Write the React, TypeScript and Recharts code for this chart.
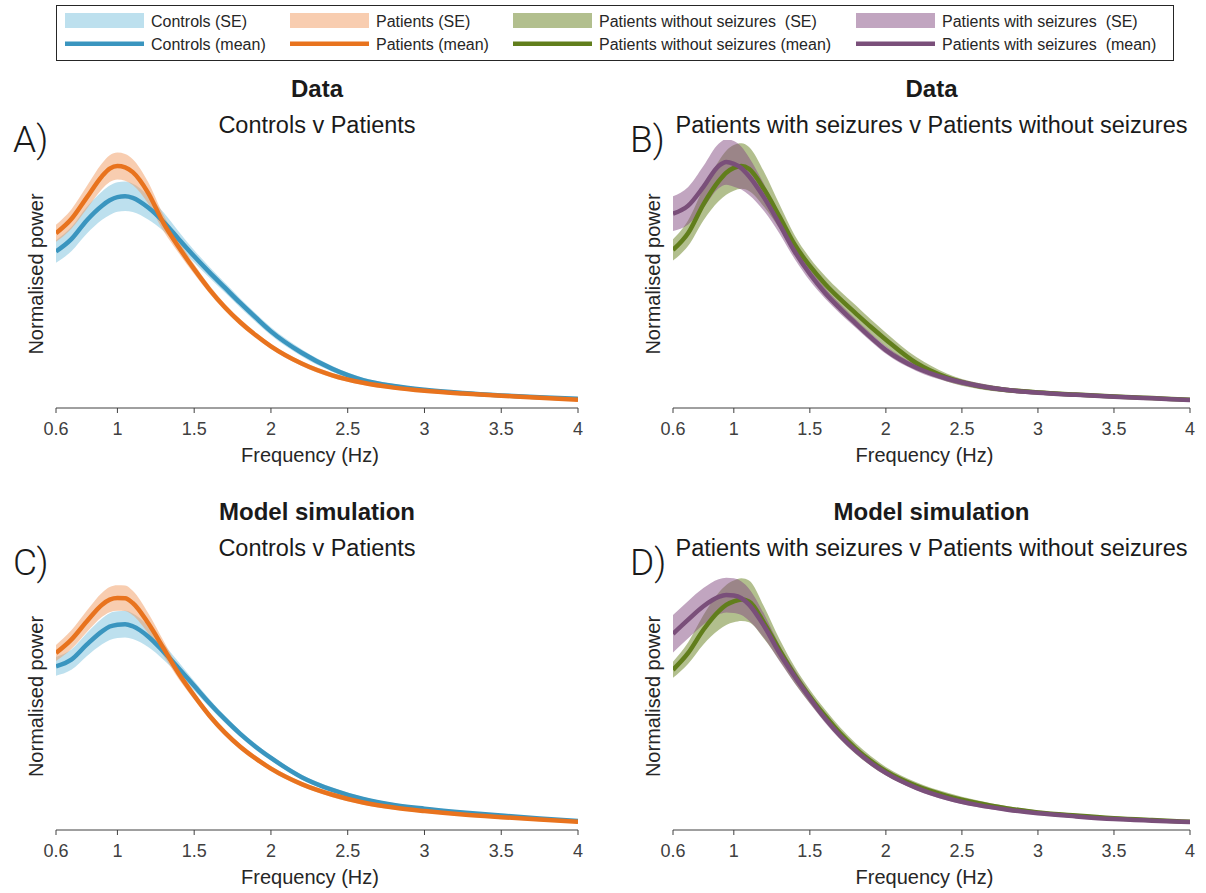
import { ComposedChart, Area, Line, XAxis, YAxis } from "recharts";

const FONT = '"Liberation Sans", Arial, Helvetica, sans-serif';

// shared frequency grid (Hz)
const freqs = [0.6, 0.7, 0.8, 0.9, 0.95, 1.0, 1.05, 1.1, 1.2, 1.3, 1.4, 1.5, 1.6, 1.7, 1.8, 1.9, 2.0, 2.2, 2.4, 2.6, 2.8, 3.0, 3.25, 3.5, 3.75, 4.0];
const tickValues = [0.6, 1, 1.5, 2, 2.5, 3, 3.5, 4];
const tickLabels = ["0.6", "1", "1.5", "2", "2.5", "3", "3.5", "4"];

// A) Data: controls v patients
const controlsMean = [58.4, 63.0, 70.0, 75.5, 77.5, 78.7, 79.0, 78.4, 74.8, 69.5, 63.0, 56.6, 50.6, 44.9, 39.2, 33.8, 28.6, 20.6, 14.6, 10.4, 8.2, 6.8, 5.6, 4.7, 4.0, 3.4];
const controlsSE = [4.2, 4.5, 5.0, 5.3, 5.5, 5.5, 5.5, 5.3, 4.5, 3.5, 2.8, 2.3, 2.0, 1.8, 1.7, 1.6, 1.5, 1.3, 1.1, 0.9, 0.8, 0.7, 0.7, 0.6, 0.6, 0.5];
const patientsMean = [65.2, 70.5, 78.5, 86.5, 89.3, 90.3, 89.8, 88.0, 80.3, 69.0, 60.0, 51.8, 44.2, 37.6, 32.0, 27.2, 23.0, 16.6, 12.2, 9.4, 7.6, 6.4, 5.4, 4.6, 3.8, 3.1];
const patientsSE = [3.2, 3.6, 4.2, 4.8, 5.0, 5.0, 5.0, 4.8, 4.0, 3.0, 2.3, 1.8, 1.5, 1.3, 1.2, 1.1, 1.0, 0.9, 0.9, 0.8, 0.7, 0.6, 0.6, 0.6, 0.6, 0.6];

// B) Data: with v without seizures
const withoutMean = [59.0, 65.3, 76.0, 84.6, 87.8, 89.6, 90.3, 89.2, 81.5, 71.5, 61.0, 53.0, 46.3, 40.6, 35.4, 30.3, 25.5, 16.8, 11.4, 8.3, 6.7, 5.8, 5.0, 4.3, 3.7, 3.1];
const withoutSE = [4.0, 4.8, 6.0, 7.5, 8.2, 8.5, 8.5, 8.2, 6.5, 4.5, 3.5, 3.0, 3.0, 3.0, 3.0, 2.8, 2.6, 2.2, 1.5, 1.1, 0.9, 0.8, 0.7, 0.7, 0.6, 0.6];
const withMean = [72.5, 75.5, 82.5, 90.3, 91.8, 91.1, 89.5, 86.5, 78.4, 68.6, 58.4, 50.0, 42.9, 37.0, 31.6, 26.4, 21.6, 15.0, 11.0, 8.4, 6.7, 5.7, 4.9, 4.2, 3.6, 3.0];
const withSE = [6.5, 7.0, 7.8, 8.3, 8.5, 8.5, 8.0, 7.0, 5.0, 3.5, 2.8, 2.5, 2.0, 1.8, 1.6, 1.5, 1.4, 1.2, 1.1, 1.0, 0.9, 0.8, 0.7, 0.7, 0.6, 0.6];

// C) Model simulation: controls v patients
const controlsMeanSim = [61.3, 63.8, 69.4, 74.4, 76.2, 76.9, 77.1, 76.3, 72.5, 66.8, 60.5, 54.0, 47.5, 41.5, 36.0, 31.2, 27.0, 19.8, 15.0, 11.6, 9.4, 8.0, 6.6, 5.4, 4.3, 3.4];
const controlsSESim = [3.5, 3.8, 4.3, 4.8, 5.0, 5.0, 5.0, 4.8, 4.0, 3.0, 2.3, 1.8, 1.5, 1.3, 1.2, 1.1, 1.0, 0.9, 0.9, 0.8, 0.7, 0.6, 0.6, 0.6, 0.5, 0.5];
const patientsMeanSim = [66.3, 71.3, 78.1, 84.4, 86.3, 86.9, 86.8, 85.0, 77.5, 68.1, 58.5, 50.3, 42.8, 36.5, 31.2, 26.8, 23.0, 17.2, 13.2, 10.3, 8.4, 7.1, 5.8, 4.8, 3.9, 3.1];
const patientsSESim = [3.0, 3.5, 4.0, 4.5, 4.7, 4.8, 4.8, 4.6, 3.8, 2.8, 2.0, 1.5, 1.3, 1.2, 1.1, 1.0, 1.0, 0.9, 0.9, 0.8, 0.7, 0.6, 0.6, 0.6, 0.6, 0.6];

// D) Model simulation: with v without seizures
const withoutMeanSim = [60.0, 66.3, 75.0, 81.9, 84.3, 85.6, 86.3, 85.6, 77.5, 67.5, 58.1, 50.0, 42.8, 36.2, 30.6, 25.9, 22.0, 16.5, 12.8, 10.1, 8.1, 6.6, 5.4, 4.4, 3.7, 3.1];
const withoutSESim = [3.0, 4.0, 5.5, 7.0, 7.5, 7.8, 8.0, 7.8, 6.0, 4.0, 3.0, 2.5, 2.3, 2.2, 2.0, 1.8, 1.6, 1.4, 1.2, 1.0, 0.8, 0.7, 0.7, 0.6, 0.6, 0.5];
const withMeanSim = [73.5, 78.8, 83.8, 87.3, 88.0, 87.8, 86.8, 84.4, 76.3, 66.3, 57.5, 49.4, 41.8, 35.3, 29.8, 25.2, 21.4, 15.8, 12.0, 9.4, 7.6, 6.3, 5.1, 4.1, 3.5, 3.0];
const withSESim = [7.0, 7.0, 6.8, 6.6, 6.5, 6.5, 6.3, 6.0, 4.5, 3.0, 2.5, 2.0, 1.6, 1.4, 1.2, 1.1, 1.0, 0.9, 0.9, 0.8, 0.7, 0.6, 0.6, 0.6, 0.5, 0.5];

const COLORS = {
  controls: { line: "#3a95bf", fill: "#7bc1dd" },
  patients: { line: "#e8731e", fill: "#f19b61" },
  without: { line: "#617e1c", fill: "#657f1d" },
  with: { line: "#7a4f7a", fill: "#834b81" },
};

const legendItems = [
  { label: "Controls", se: "Controls (SE)", mean: "Controls (mean)", c: COLORS.controls, x: 65 },
  { label: "Patients", se: "Patients (SE)", mean: "Patients (mean)", c: COLORS.patients, x: 290 },
  { label: "Without", se: "Patients without seizures  (SE)", mean: "Patients without seizures (mean)", c: COLORS.without, x: 513 },
  { label: "With", se: "Patients with seizures  (SE)", mean: "Patients with seizures  (mean)", c: COLORS.with, x: 856 },
];

type Group = { key: string; mean: number[]; se: number[]; line: string; fill: string };

function buildRows(groups: Group[]) {
  return freqs.map((f, i) => {
    const row: Record<string, any> = { f };
    groups.forEach((g) => {
      row[g.key] = g.mean[i];
      row[g.key + "Band"] = [g.mean[i] - g.se[i], g.mean[i] + g.se[i]];
    });
    return row;
  });
}

type PanelProps = {
  left: number;
  top: number;
  width: number;
  height: number;
  plot: { left: number; right: number; top: number; bottom: number };
  groups: Group[];
};

const X_AXIS_H = 30;

const Panel = ({ left, top, width, height, plot, groups }: PanelProps) => {
  const rows = buildRows(groups);
  return (
    <div style={{ position: "absolute", left, top }}>
      <ComposedChart
        width={width}
        height={height}
        data={rows}
        margin={{
          top: plot.top - top,
          left: plot.left - left,
          right: left + width - plot.right,
          bottom: top + height - plot.bottom - X_AXIS_H,
        }}
      >
        <XAxis
          dataKey="f"
          type="number"
          domain={[0.6, 4]}
          ticks={tickValues}
          tickFormatter={(v) => tickLabels[tickValues.indexOf(v)] ?? String(v)}
          height={X_AXIS_H}
          tick={{ fontSize: 18, fill: "#404040", fontFamily: FONT }}
          tickSize={5}
          tickMargin={9}
          stroke="#404040"
          interval={0}
          allowDataOverflow
        />
        <YAxis type="number" domain={[0, 100]} width={0} tick={false} tickLine={false} stroke="#404040" allowDataOverflow />
        {groups.map((g) => (
          <Area
            key={g.key + "Band"}
            dataKey={g.key + "Band"}
            type="monotone"
            stroke="none"
            fill={g.fill}
            fillOpacity={0.5}
            dot={false}
            activeDot={false}
            isAnimationActive={false}
          />
        ))}
        {groups.map((g) => (
          <Line
            key={g.key}
            dataKey={g.key}
            type="monotone"
            stroke={g.line}
            strokeWidth={4.5}
            dot={false}
            activeDot={false}
            isAnimationActive={false}
          />
        ))}
      </ComposedChart>
    </div>
  );
};

const groupsA: Group[] = [
  { key: "controls", mean: controlsMean, se: controlsSE, ...COLORS.controls },
  { key: "patients", mean: patientsMean, se: patientsSE, ...COLORS.patients },
];
const groupsB: Group[] = [
  { key: "without", mean: withoutMean, se: withoutSE, ...COLORS.without },
  { key: "with", mean: withMean, se: withSE, ...COLORS.with },
];
const groupsC: Group[] = [
  { key: "controls", mean: controlsMeanSim, se: controlsSESim, ...COLORS.controls },
  { key: "patients", mean: patientsMeanSim, se: patientsSESim, ...COLORS.patients },
];
const groupsD: Group[] = [
  { key: "without", mean: withoutMeanSim, se: withoutSESim, ...COLORS.without },
  { key: "with", mean: withMeanSim, se: withSESim, ...COLORS.with },
];

const plotA = { left: 56, right: 578, top: 140, bottom: 408 };
const plotB = { left: 673, right: 1190, top: 140, bottom: 408 };
const plotC = { left: 56, right: 578, top: 563, bottom: 830 };
const plotD = { left: 673, right: 1190, top: 563, bottom: 830 };

const PanelText = ({ plot, title, subtitle, letter }: { plot: typeof plotA; title: string; subtitle: string; letter: string }) => {
  const cx = (plot.left + plot.right) / 2;
  return (
    <g fill="#1a1a1a">
      <text x={cx} y={plot.top - 43} textAnchor="middle" fontSize={24} fontWeight="bold" fontFamily={FONT}>
        {title}
      </text>
      <text x={cx} y={plot.top - 7} textAnchor="middle" fontSize={23.5} fontFamily={FONT}>
        {subtitle}
      </text>
      <text x={plot.left - 43} y={plot.top + 12} fontSize={37} fontWeight={300} fontFamily="Roboto, sans-serif">
        {letter}
      </text>
      <text
        transform={`translate(${plot.left - 20},${(plot.top + plot.bottom) / 2}) rotate(-90)`}
        textAnchor="middle"
        dominantBaseline="central"
        fontSize={20}
        fill="#262626"
        fontFamily={FONT}
      >
        Normalised power
      </text>
      <text x={cx - 7} y={plot.bottom + 54} textAnchor="middle" fontSize={20} fill="#262626" fontFamily={FONT}>
        Frequency (Hz)
      </text>
    </g>
  );
};

export default function App() {
  return (
    <div style={{ position: "absolute", left: 0, top: 0, width: 1206, height: 893, background: "#fff", overflow: "hidden" }}>
      <Panel left={0} top={0} width={600} height={480} plot={plotA} groups={groupsA} />
      <Panel left={600} top={0} width={606} height={480} plot={plotB} groups={groupsB} />
      <Panel left={0} top={420} width={600} height={473} plot={plotC} groups={groupsC} />
      <Panel left={600} top={420} width={606} height={473} plot={plotD} groups={groupsD} />
      <svg width={1206} height={893} style={{ position: "absolute", left: 0, top: 0, pointerEvents: "none" }}>
        <rect x={56.5} y={5.5} width={1117} height={55} fill="#fff" stroke="#262626" strokeWidth={1} />
        {legendItems.map((it) => (
          <g key={it.label}>
            <rect x={it.x} y={13} width={79} height={15} fill={it.c.fill} fillOpacity={0.5} />
            <rect x={it.x} y={41.5} width={79} height={4.5} fill={it.c.line} />
            <text x={it.x + 86} y={26.5} fontSize={16} fill="#262626" fontFamily={FONT} style={{ whiteSpace: "pre" }}>
              {it.se}
            </text>
            <text x={it.x + 86} y={50} fontSize={16} fill="#262626" fontFamily={FONT} style={{ whiteSpace: "pre" }}>
              {it.mean}
            </text>
          </g>
        ))}
        <PanelText plot={plotA} title="Data" subtitle="Controls v Patients" letter="A)" />
        <PanelText plot={plotB} title="Data" subtitle="Patients with seizures v Patients without seizures" letter="B)" />
        <PanelText plot={plotC} title="Model simulation" subtitle="Controls v Patients" letter="C)" />
        <PanelText plot={plotD} title="Model simulation" subtitle="Patients with seizures v Patients without seizures" letter="D)" />
      </svg>
    </div>
  );
}
